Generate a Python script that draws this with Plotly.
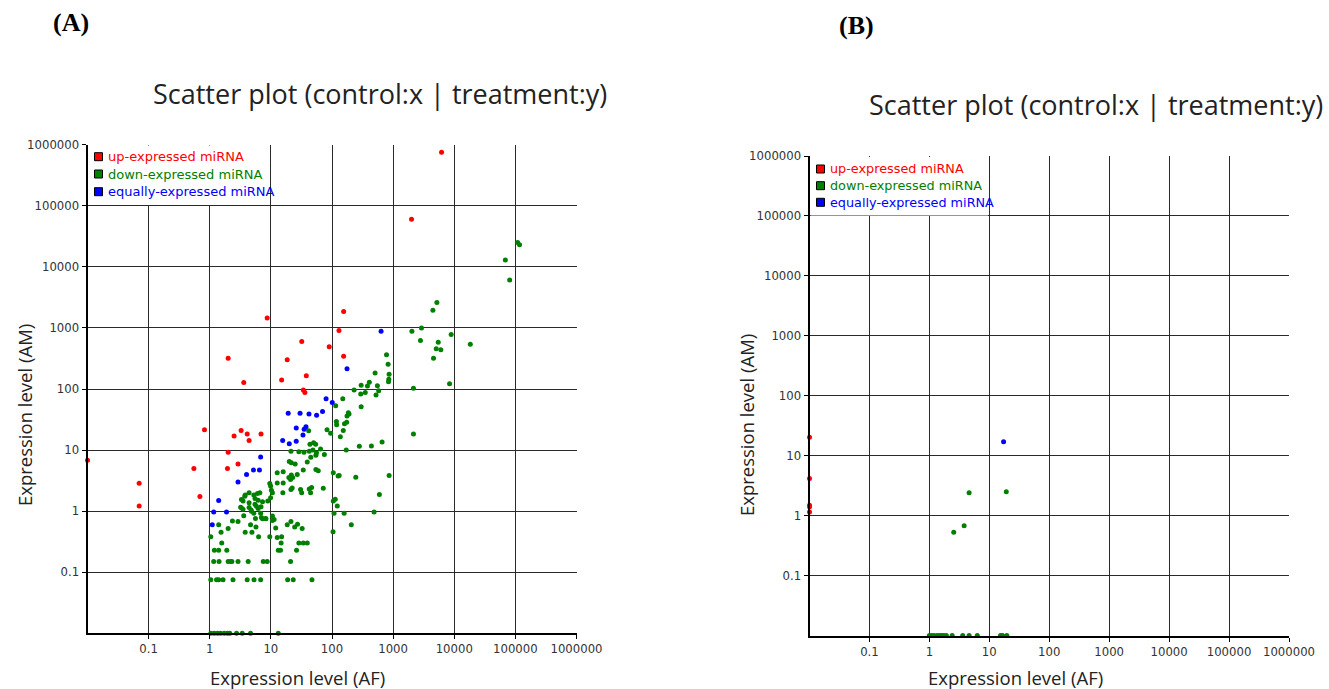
import plotly.graph_objects as go

# ---------------- data ----------------
# Panel A (AF control vs AM treatment)
a_up_x = [6200, 2000, 8.7, 155, 130, 32, 90, 18.5, 2.0, 38, 155, 15, 3.6, 34, 36,
          0.01, 0.07, 0.07, 0.55, 0.82, 0.69, 2.0, 1.95, 2.9, 2.5, 3.26, 4.1, 4.4, 6.9]
a_up_y = [750000, 60000, 1450, 1850, 910, 600, 490, 300, 320, 165, 345, 140, 128, 96, 88,
          6.8, 2.85, 1.22, 5.0, 21.5, 1.74, 9.2, 5.0, 5.9, 17, 21, 18.3, 14.4, 18.3]

a_eq_x = [635, 176, 80, 101, 70, 19.2, 30, 42, 56, 26, 37.5, 35, 33.5, 15.6, 20, 26,
          6.8, 5.2, 6.5, 4.0, 2.9, 1.4, 1.16, 1.88, 1.1]
a_eq_y = [880, 215, 69, 60, 43, 40, 40, 39, 37, 23, 24, 21.9, 17.6, 14.4, 12.7, 14,
          7.7, 4.7, 4.7, 4.0, 3.0, 1.5, 0.97, 0.97, 0.6]

a_down_x = [
    109000, 117000, 68600, 80700, 5200, 4470, 2910, 2030, 8900, 18300, 2800, 5470, 5070, 6030,
    4580, 780, 828, 507, 860, 850, 840, 408, 380, 300, 553, 8380, 2150,
    580, 525, 350, 295, 230, 300, 150, 115, 185, 190, 176, 118, 119, 160, 174, 153, 83,
    2150, 95, 137, 65, 75, 171, 280, 441, 660, 105, 126, 131, 245, 860, 72, 596, 105, 113,
    122, 108, 158, 488, 207, 104,
    41.5, 43.6, 50, 54, 21.3, 28.7, 34.8, 42.4, 48.7, 55.7, 54.5, 45, 21.6, 25, 39.4, 20,
    54.5, 59.6, 33.9, 27, 15.9, 12.7, 21.6, 19.7, 22.7, 12.7, 15.9, 21, 22.3, 21.3, 30.6,
    42.4, 46.4, 31.9, 44.6, 9.6, 9.9, 10.2, 10.6, 8.9, 15.7,
    3.74, 4.4, 5.26, 6.04, 6.6, 5.5, 6.2, 7.3, 3.5, 4.4, 5.5, 3.3, 4.4, 5.8, 6.9, 9.9,
    3.5, 4.8, 5.26, 6.2, 6.8, 7.3, 8.3, 5.6, 3.6, 2.9, 4.65, 10.6, 11.3, 9.6, 6.3, 3.8,
    4.9, 2.0, 1.57, 1.53, 1.4, 1.04, 1.19, 1.4, 1.9, 12.0, 12.7, 15, 14.7, 13.2, 14.4,
    26.3, 18.5, 21.3, 24.5, 27.3, 32.5, 28.7, 33.9, 39.4, 2.35, 3.2, 3.3, 3.8, 4.75, 7.0,
    8.2, 5.7, 10.6,
    1.16, 1.42, 2.0, 2.2, 2.3, 2.9, 4.25, 7.5, 8.7, 21,
    1.04, 1.29, 1.4, 1.65, 2.4, 4.1, 5.3, 6.8, 18.8, 23.2, 47,
    1.04, 1.18, 1.34, 1.5, 1.72, 1.95, 2.13, 2.74, 3.4, 4.65, 13.2]
a_down_y = [
    25000, 23000, 12900, 6100, 2600, 1950, 1000, 880, 780, 540, 620, 580, 456, 440,
    318, 365, 254, 183, 174, 144, 132, 129, 112, 115, 113, 122, 103,
    94, 80, 88, 83, 96, 51, 69, 53, 41, 39, 36, 29.5, 26, 27, 28.5, 21, 21.5,
    18.3, 18.8, 16.5, 10.4, 8.5, 10, 11.5, 11.7, 13.5, 4.25, 3.75, 3.84, 3.6, 3.85, 2.36, 1.88, 1.46, 1.57,
    1.22, 0.92, 0.92, 0.97, 0.6, 0.46,
    20.7, 12.4, 13.2, 12.5, 9.6, 9.4, 9.25, 9.6, 10, 9.0, 8.2, 7.6, 6.2, 5.9, 6.4, 6.5,
    4.8, 4.6, 4.7, 4.0, 4.4, 4.25, 3.9, 3.56, 3.56, 2.9, 2.9, 3.3, 2.4, 2.27, 2.27,
    2.3, 2.45, 2.0, 2.0, 2.84, 2.57, 2.2, 2.0, 1.47, 2.0,
    1.76, 2.0, 1.83, 1.95, 2.0, 1.61, 1.51, 1.42, 1.47, 1.37, 1.3, 1.13, 1.15, 1.2, 1.18, 1.65,
    1.07, 1.0, 0.92, 1.1, 0.92, 0.75, 0.75, 0.76, 0.84, 0.68, 0.6, 0.83, 0.73, 0.38, 0.38, 0.45,
    0.45, 0.52, 0.30, 0.45, 0.6, 0.38, 0.23, 0.23, 0.23, 0.53, 0.37, 0.38, 0.30, 0.23, 0.23,
    0.23, 0.6, 0.68, 0.55, 0.61, 0.52, 0.30, 0.30, 0.30, 0.69, 1.16, 1.55, 1.83, 1.04, 0.79,
    0.76, 0.55, 0.7,
    0.15, 0.15, 0.15, 0.15, 0.15, 0.15, 0.15, 0.15, 0.15, 0.15,
    0.075, 0.075, 0.075, 0.075, 0.075, 0.075, 0.075, 0.075, 0.075, 0.075, 0.075,
    0.01, 0.01, 0.01, 0.01, 0.01, 0.01, 0.01, 0.01, 0.01, 0.01, 0.01]

# Panel B
b_up_x = [0.01, 0.01, 0.01, 0.01, 0.01]
b_up_y = [20.4, 4.15, 1.49, 1.41, 1.15]
b_eq_x = [17.3]
b_eq_y = [17]
b_down_x = [4.6, 19.2, 3.8, 2.55,
            1.0, 1.09, 1.2, 1.35, 1.47, 1.61, 1.74, 1.92, 2.4, 3.6, 4.6, 6.3, 15.4, 16.6, 19.6]
b_down_y = [2.4, 2.5, 0.68, 0.53,
            0.01, 0.01, 0.01, 0.01, 0.01, 0.01, 0.01, 0.01, 0.01, 0.01, 0.01, 0.01, 0.01, 0.01, 0.01]

tick_vals = [0.1, 1, 10, 100, 1000, 10000, 100000, 1000000]
tick_text = ["0.1", "1", "10", "100", "1000", "10000", "100000", "1000000"]

series_names = ["up-expressed miRNA", "down-expressed miRNA", "equally-expressed miRNA"]
series_colors = ["#ff0000", "#008000", "#0000ff"]

title_text = "Scatter plot (control:x | treatment:y)"
x_title = "Expression level (AF)"
y_title = "Expression level (AM)"

# ---------------- figure ----------------
W, H = 1329, 689


def px(x):
    return x / W


def py(y):
    return 1 - y / H


fig = go.Figure()

panels = [
    ("x", "y", [(a_up_x, a_up_y), (a_down_x, a_down_y), (a_eq_x, a_eq_y)]),
    ("x2", "y2", [(b_up_x, b_up_y), (b_down_x, b_down_y), (b_eq_x, b_eq_y)]),
]
for xa, ya, sets in panels:
    for (xs, ys), name, col in zip(sets, series_names, series_colors):
        fig.add_trace(go.Scatter(
            x=xs, y=ys, mode="markers", name=name, xaxis=xa, yaxis=ya,
            marker=dict(color=col, size=5, line=dict(width=0)),
            showlegend=False, cliponaxis=False))

axis_common = dict(
    type="log", range=[-2, 6], tickmode="array", tickvals=tick_vals, ticktext=tick_text,
    showgrid=True, gridcolor="#2a2a2a", gridwidth=1.2, zeroline=False,
    showline=True, linecolor="black", linewidth=2,
    ticks="outside", ticklen=4, tickwidth=1, tickcolor="black",
    tickfont=dict(family="DejaVu Sans", size=11.7, color="#333333"),
    fixedrange=True, automargin=False,
)

A_dom_x = [px(87.5), px(576.5)]
A_dom_y = [py(633.3), py(144.7)]
B_dom_x = [px(809.5), px(1289)]
B_dom_y = [py(635.5), py(156)]

fig.update_layout(
    width=W, height=H,
    margin=dict(l=0, r=0, t=0, b=0, pad=0, autoexpand=False),
    paper_bgcolor="white", plot_bgcolor="white",
    showlegend=False,
    xaxis=dict(domain=A_dom_x, anchor="y", **axis_common),
    yaxis=dict(domain=A_dom_y, anchor="x", **axis_common),
    xaxis2=dict(domain=B_dom_x, anchor="y2", **axis_common),
    yaxis2=dict(domain=B_dom_y, anchor="x2", **axis_common),
)

annotations = []
shapes = []

# panel letters
for txt, cx, cy in [("(A)", 71, 22), ("(B)", 857, 25)]:
    annotations.append(dict(text="<b>" + txt + "</b>", x=px(cx), y=py(cy), xref="paper", yref="paper",
                            xanchor="center", yanchor="middle", showarrow=False,
                            font=dict(family="Liberation Serif", size=26, color="black")))

# chart titles
for cx, cy in [(380, 93), (1096, 105)]:
    annotations.append(dict(text=title_text, x=px(cx), y=py(cy), xref="paper", yref="paper",
                            xanchor="center", yanchor="middle", showarrow=False,
                            font=dict(family="Open Sans", size=27, color="#222222")))

# axis titles
for cx, cy in [(297, 677), (1015, 677)]:
    annotations.append(dict(text=x_title, x=px(cx), y=py(cy), xref="paper", yref="paper",
                            xanchor="center", yanchor="middle", showarrow=False,
                            font=dict(family="Open Sans", size=18.5, color="#222222")))
for cx, cy in [(24, 415), (746, 425)]:
    annotations.append(dict(text=y_title, x=px(cx), y=py(cy), xref="paper", yref="paper",
                            xanchor="center", yanchor="middle", showarrow=False, textangle=-90,
                            font=dict(family="Open Sans", size=18.5, color="#222222")))

# in-plot legends
legend_specs = [
    # bg box (x0, y0, x1, y1), square x0, square x1, text x, row centres, font size
    ((88.5, 145.5, 270, 205), 94.5, 102.5, 106, [156.7, 174, 191.7], 13),
    ((810.5, 157, 988, 215.5), 816.5, 824.5, 828, [169, 185.7, 202.3], 12.8),
]
for (bx0, by0, bx1, by1), sx0, sx1, tx, rows, fs in legend_specs:
    shapes.append(dict(type="rect", xref="paper", yref="paper", layer="above",
                       x0=px(bx0), x1=px(bx1), y0=py(by1), y1=py(by0),
                       fillcolor="white", line=dict(width=0)))
    for rc, name, col in zip(rows, series_names, series_colors):
        half = (sx1 - sx0) / 2
        shapes.append(dict(type="rect", xref="paper", yref="paper", layer="above",
                           x0=px(sx0), x1=px(sx1), y0=py(rc + half), y1=py(rc - half),
                           fillcolor=col, line=dict(color="black", width=1)))
        annotations.append(dict(text=name, x=px(tx), y=py(rc), xref="paper", yref="paper",
                                xanchor="left", yanchor="middle", showarrow=False,
                                font=dict(family="DejaVu Sans", size=fs, color=col)))

fig.update_layout(annotations=annotations, shapes=shapes)

fig.write_html("out.html", config={"displayModeBar": False},
               post_script="document.body.style.margin='0';document.body.style.overflow='hidden';")
